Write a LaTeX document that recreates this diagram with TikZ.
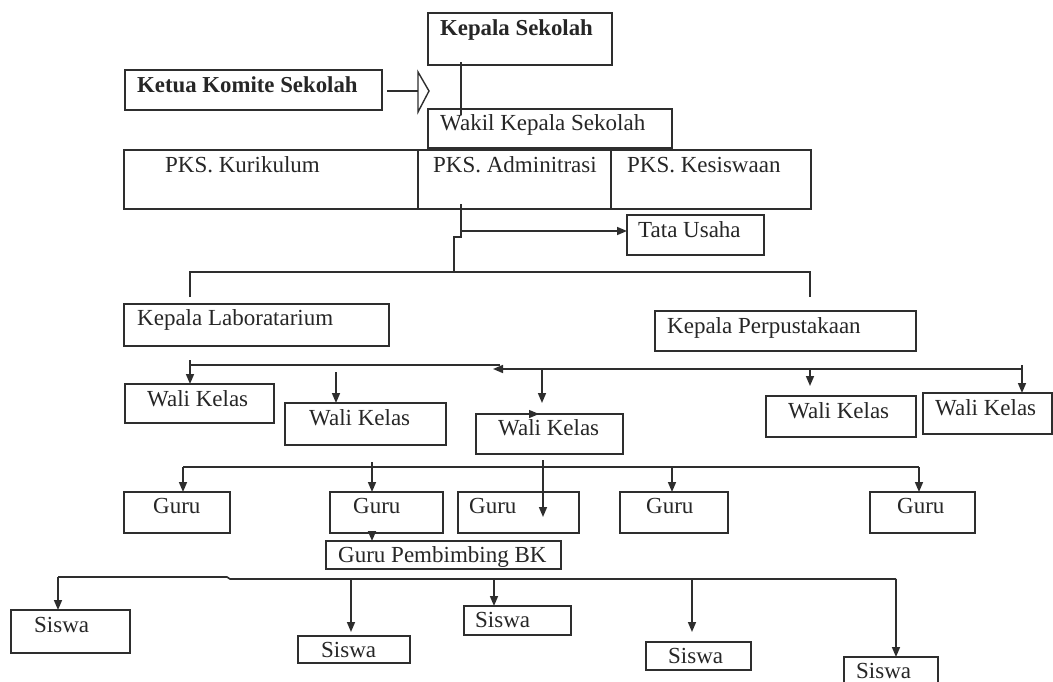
\documentclass[tikz,border=0pt]{standalone}
\usepackage{fontspec}
\setmainfont{Liberation Serif}
\usetikzlibrary{arrows.meta,calc}
\definecolor{lc}{HTML}{2E2E2E}
\definecolor{tc}{HTML}{262626}
\tikzset{
  box/.style={draw=lc, line width=1.5pt, inner sep=0pt, outer sep=0pt, anchor=north west},
  txt/.style={anchor=base west, inner sep=0pt, text=tc, font=\fontsize{23}{26}\selectfont},
  btxt/.style={txt, font=\fontsize{22.8}{26}\selectfont\bfseries},
  conn/.style={draw=lc, line width=1.6pt},
  arr/.style={conn, -{Triangle[length=10pt,width=8pt]}},
  larr/.style={conn, {Triangle[length=10pt,width=8pt]}-},
}
% \bx{name}{x1}{y1}{x2}{y2}{textx}{texty}{text}
\newcommand\bx[8]{%
  \node[box, minimum width={(#4-#2)*1pt}, minimum height={(#5-#3)*1pt}] (#1) at (#2,#3) {};
  \node[txt] (#1-t) at (#6,#7) {#8};}
\newcommand\bxb[8]{%
  \node[box, minimum width={(#4-#2)*1pt}, minimum height={(#5-#3)*1pt}] (#1) at (#2,#3) {};
  \node[btxt] (#1-t) at (#6,#7) {#8};}
\begin{document}
\begin{tikzpicture}[x=1pt,y=-1pt]
\useasboundingbox[fill=white] (0,0) rectangle (1053,681);

% boxes
\bxb{ks}{428}{13}{612}{65}{440}{35}{Kepala Sekolah}
\bxb{ketua}{125}{70}{382}{110}{137}{92}{Ketua Komite Sekolah}
\bx{wk}{428}{109}{672}{148}{440}{130}{Wakil Kepala Sekolah}
\bx{pkk}{124}{150}{418}{209}{165}{172}{PKS. Kurikulum}
\bx{pka}{418}{150}{611}{209}{433}{172}{PKS. Adminitrasi}
\bx{pks}{611}{150}{811}{209}{627}{172}{PKS. Kesiswaan}
\bx{tu}{627}{215}{764}{255}{638}{237}{Tata Usaha}
\bx{kl}{124}{304}{389}{346}{137}{325}{Kepala Laboratarium}
\bx{kp}{655}{311}{916}{351}{667}{333}{Kepala Perpustakaan}
\bx{wk1}{125}{384}{274}{423}{147}{406}{Wali Kelas}
\bx{wk2}{285}{403}{446}{445}{309}{425}{Wali Kelas}
\bx{wk3}{476}{414}{623}{454}{498}{435}{Wali Kelas}
\bx{wk4}{766}{396}{916}{437}{788}{418}{Wali Kelas}
\bx{wk5}{923}{393}{1052}{434}{935}{415}{Wali Kelas}
\bx{g1}{124}{492}{230}{533}{153}{513}{Guru}
\bx{g2}{330}{492}{443}{533}{353}{513}{Guru}
\bx{g3}{458}{492}{579}{533}{469}{513}{Guru}
\bx{g4}{620}{492}{728}{533}{646}{513}{Guru}
\bx{g5}{870}{492}{975}{533}{897}{513}{Guru}
\bx{pbk}{326}{541}{561}{569}{338}{562}{Guru Pembimbing BK}
\bx{s1}{11}{610}{130}{653}{34}{632}{Siswa}
\bx{s2}{298}{636}{410}{663}{321}{657}{Siswa}
\bx{s3}{464}{606}{571}{635}{475}{627}{Siswa}
\bx{s4}{646}{642}{751}{670}{668}{663}{Siswa}
\bx{s5}{844}{657}{938}{684}{856}{678}{Siswa}

% Ketua -> Kepala Sekolah (open arrow)
\coordinate (oa) at (418,91);
\draw[draw=lc, line width=2.2pt] ($(ketua.east)+(5,1)$) -- (oa);
\draw[draw=lc, line width=1.4pt, fill=white] (418,72) -- (429,91) -- (418,112) -- cycle;

% Kepala Sekolah -- Wakil
\draw[conn, line width=1.3pt] (461,0 |- ks.south) ++(0,-3) -- (461,0 |- wk.north) -- ++(0,6);

% PKS Adminitrasi -> Tata Usaha and branch
\coordinate (b1) at (461,237);
\coordinate (h1l) at (190,272);
\coordinate (h1r) at (810,272);
\draw[conn] (461,0 |- pka.south) ++(0,-5) -- (b1) -- ++(-7,0) -- (454,0 |- h1l);
\draw[arr] (461,231) -- (tu.west |- 0,231);
\draw[conn] (190,297) -- (h1l) -- (h1r) -- (810,297);

% Wali Kelas row
\draw[conn] (190,365) -- (500,365);
\draw[larr] (493,369) -- (1022,369);
\draw[arr] (190,360) -- (190,0 |- wk1.north);
\draw[arr] (336,372) -- (336,403);
\draw[arr] (542,369) -- (542,403);
\draw[arr] (810,369) -- (810,386);
\draw[arr] (1022,365) -- (1022,0 |- wk5.north);
\draw[arr, line width=1.2pt] (527,414) -- (539,414);

% Guru row
\draw[conn] (183,467) -- (919,467);
\draw[arr] (183,467) -- (183,0 |- g1.north);
\draw[arr] (372,462) -- (372,0 |- g2.north);
\draw[arr] (543,460) -- (543,517);
\draw[arr] (672,467) -- (672,0 |- g4.north);
\draw[arr] (919,467) -- (919,0 |- g5.north);
\draw[arr] (372,0 |- g2.south) -- (372,0 |- pbk.north);

% Siswa row
\draw[conn] (58,577) -- (227,577) -- (230,579) -- (896,579);
\draw[arr] (58,577) -- (58,0 |- s1.north);
\draw[arr] (351,579) -- (351,632);
\draw[arr] (494,579) -- (494,0 |- s3.north);
\draw[arr] (692,579) -- (692,632);
\draw[arr] (896,579) -- (896,0 |- s5.north);
\end{tikzpicture}
\end{document}
